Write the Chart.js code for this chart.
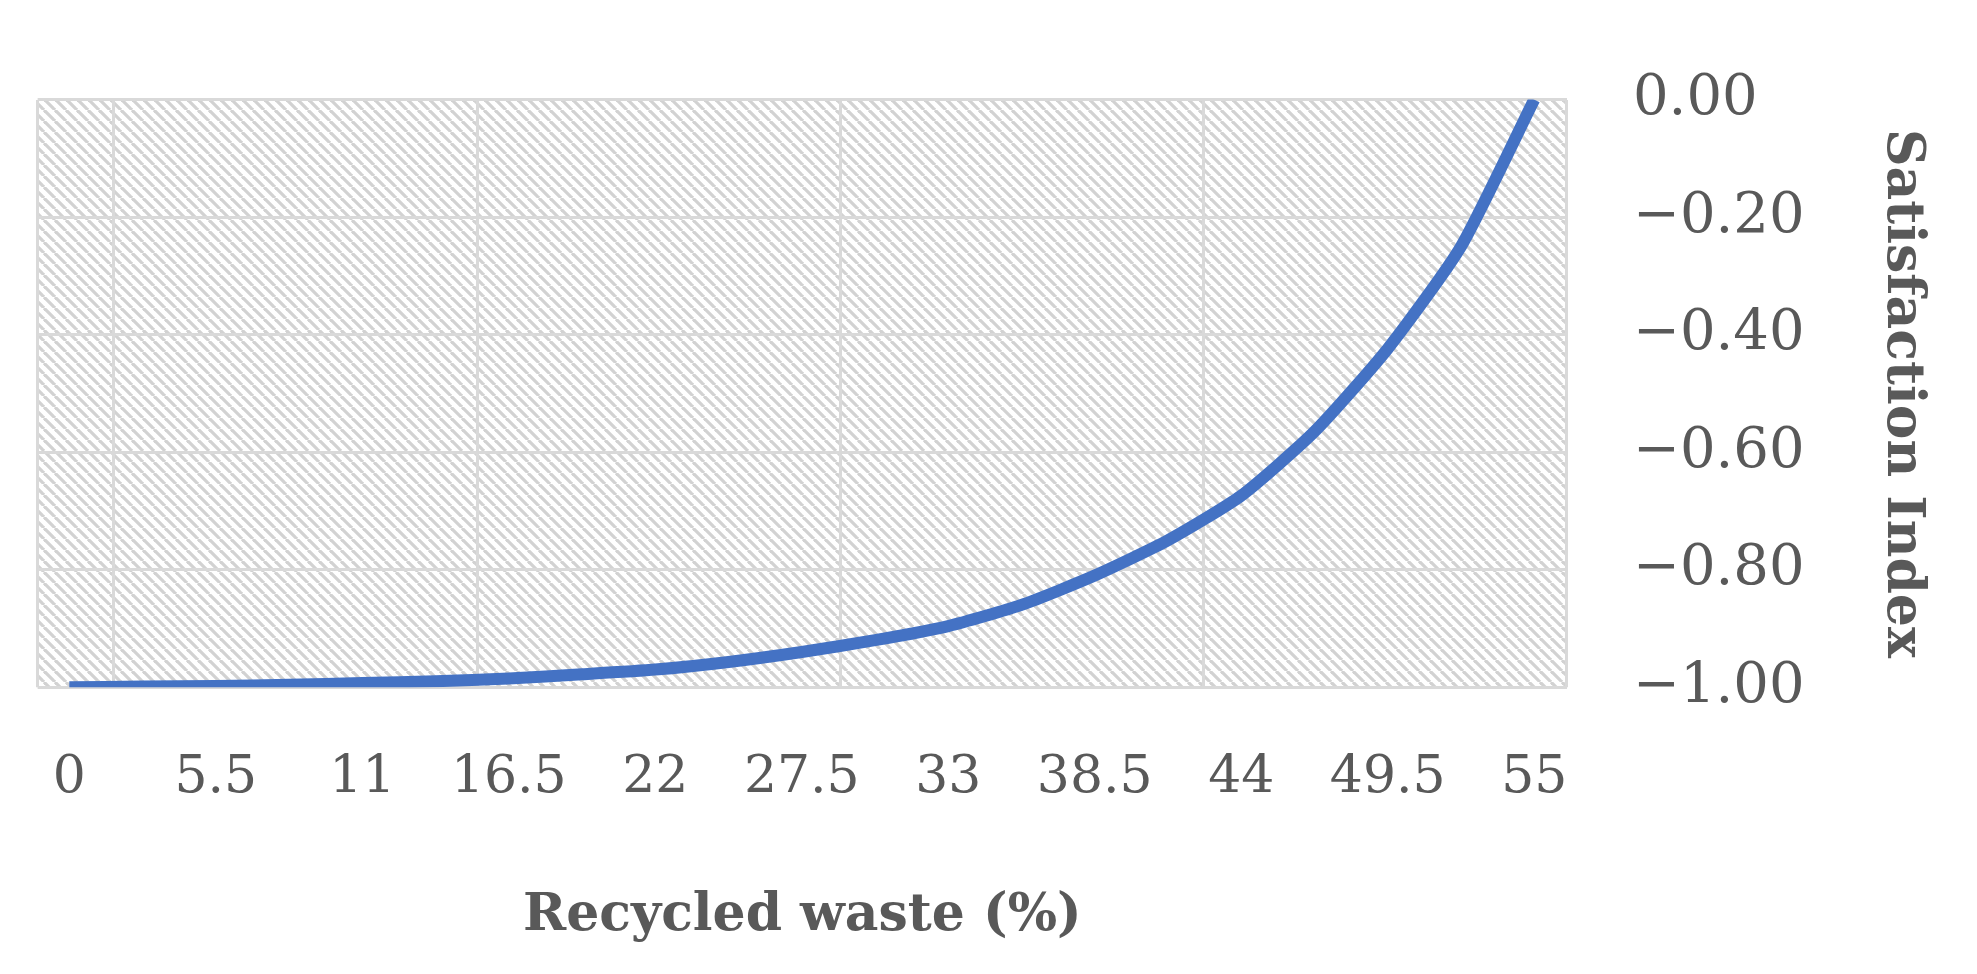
<!DOCTYPE html>
<html><head><meta charset="utf-8">
<script src="https://cdn.jsdelivr.net/npm/chart.js@4/dist/chart.umd.min.js"></script>
<style>html,body{margin:0;padding:0;background:#fff}#w{width:1977px;height:974px}</style>
</head><body><div id="w"><canvas id="c"></canvas></div>
<script>
const xValues = [0,2.75,5.5,8.25,11,13.75,16.5,19.25,22,24.75,27.5,30.25,33,35.75,38.5,41.25,44,46.75,49.5,52.25,55];
const satisfaction = [-1.000,-0.999,-0.998,-0.996,-0.993,-0.990,-0.985,-0.978,-0.970,-0.957,-0.940,-0.920,-0.896,-0.860,-0.810,-0.750,-0.674,-0.565,-0.424,-0.250,0.000];
const xTickLabels = [0,5.5,11,16.5,22,27.5,33,38.5,44,49.5,55];
const yTicks = [-1,-0.8,-0.6,-0.4,-0.2,0];

const FONT = "'DejaVu Serif',serif";
const GREY = '#595959';

const hatch = {
  id:'hatch',
  beforeDraw(chart){
    const {ctx, chartArea:a} = chart;
    const n = 11;
    const p = document.createElement('canvas'); p.width=n; p.height=n;
    const pc = p.getContext('2d');
    pc.fillStyle='#fff'; pc.fillRect(0,0,n,n);
    pc.strokeStyle='#d2d2d2'; pc.lineWidth=3.2;
    for (const o of [-n,0,n]) { pc.beginPath(); pc.moveTo(o,0); pc.lineTo(o+n,n); pc.stroke(); }
    ctx.save(); ctx.fillStyle = ctx.createPattern(p,'repeat');
    ctx.fillRect(a.left,a.top,a.right-a.left,a.bottom-a.top); ctx.restore();
  }
};

new Chart(document.getElementById('c'), {
  type:'line',
  data:{datasets:[{data:xValues.map((x,i)=>({x, y:satisfaction[i]})), borderColor:'#4472C4', borderWidth:12, pointRadius:0, tension:0.2, xAxisID:'x', yAxisID:'y', borderCapStyle:'butt'}]},
  options:{
    responsive:true, maintainAspectRatio:false, animation:false,
    layout:{padding:{left:28, top:42, right:4, bottom:22}},
    plugins:{legend:{display:false}, tooltip:{enabled:false}},
    scales:{
      x:{type:'linear', min:-1.19, max:56.23, position:'bottom',
         afterBuildTicks(s){ s.ticks = xTickLabels.map(v=>({value:v})); },
         ticks:{font:{family:FONT,size:52}, color:GREY, padding:52, maxRotation:0, autoSkip:false, callback:v=>String(v)},
         grid:{display:false}, border:{display:false},
         title:{display:true, text:'Recycled waste (%)', font:{family:FONT,size:52,weight:'bold'}, color:GREY, padding:{top:24}}},
      xg:{type:'linear', min:-0.21, max:4, position:'top', display:true,
         afterFit(s){ s.height = 0; },
         ticks:{display:false, stepSize:1}, grid:{color:'#d9d9d9', lineWidth:3, drawTicks:false}, border:{display:false}},
      y:{type:'linear', position:'right', min:-1, max:0,
         afterBuildTicks(s){ s.ticks = yTicks.map(v=>({value:v})); },
         ticks:{font:{family:FONT,size:56}, color:GREY, padding:66, callback:v=>(v<0?'\u2212':'')+Math.abs(v).toFixed(2)},
         grid:{color:'#d9d9d9', lineWidth:3, drawTicks:false}, border:{display:false},
         title:{display:true, text:'Satisfaction Index', font:{family:FONT,size:52,weight:'bold'}, color:GREY, padding:{top:40,bottom:0}}}
    }
  },
  plugins:[hatch]
});
</script></body></html>
